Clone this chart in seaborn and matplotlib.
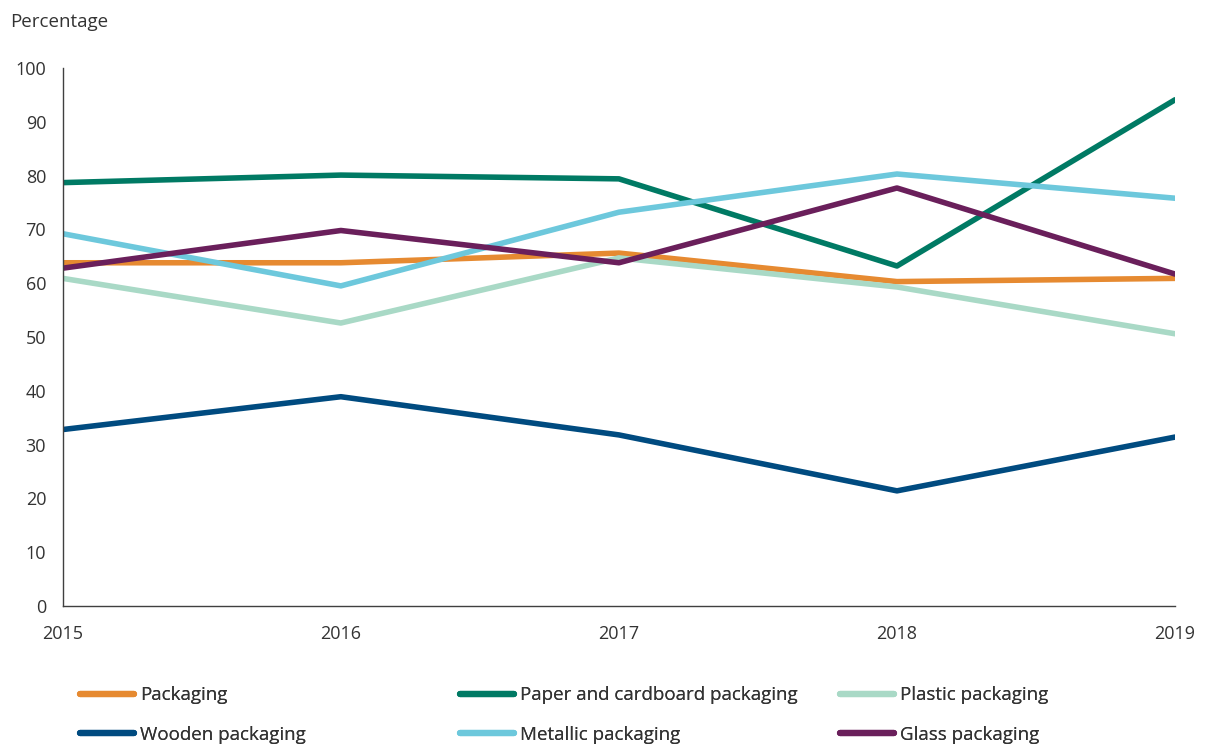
import pandas as pd
import seaborn as sns
import matplotlib.pyplot as plt
from matplotlib.lines import Line2D

years = [2015, 2016, 2017, 2018, 2019]
packaging = [63.8, 63.8, 65.6, 60.3, 60.9]
paper = [78.7, 80.1, 79.4, 63.2, 94.1]
plastic = [60.9, 52.6, 64.7, 59.3, 50.6]
wooden = [32.8, 38.9, 31.8, 21.4, 31.4]
metallic = [69.2, 59.5, 73.2, 80.3, 75.8]
glass = [62.8, 69.8, 63.8, 77.7, 61.7]

names = ["Packaging", "Paper and cardboard packaging", "Plastic packaging",
         "Wooden packaging", "Metallic packaging", "Glass packaging"]
series = [packaging, paper, plastic, wooden, metallic, glass]
colors = ["#E68A31", "#007A64", "#A9D9C6", "#004B80", "#6DC8DC", "#6A1F5B"]

df = pd.DataFrame({n: s for n, s in zip(names, series)}, index=years)
df.index.name = "year"
long = df.reset_index().melt(id_vars="year", var_name="series", value_name="value")

sns.set_style("white")
plt.rcParams["font.family"] = ["Open Sans", "DejaVu Sans"]

fig = plt.figure(figsize=(12.08, 7.46), dpi=100)
ax = fig.add_axes([0.052, 0.1877, 0.9207, 0.7211])

sns.lineplot(data=long, x="year", y="value", hue="series", hue_order=names,
             palette=dict(zip(names, colors)), linewidth=4.0, ax=ax, legend=False)

ax.set_xlim(2015, 2019)
ax.set_ylim(0, 100)
ax.set_xticks(years)
ax.set_yticks(range(0, 101, 10))
ax.set_xlabel("")
ax.set_ylabel("")
for s in ["top", "right"]:
    ax.spines[s].set_visible(False)
for s in ["left", "bottom"]:
    ax.spines[s].set_color("#404040")
    ax.spines[s].set_linewidth(1.0)
ax.tick_params(axis="both", direction="out", length=5, width=1, color="#404040",
               labelsize=13, labelcolor="#333333")
ax.tick_params(axis="x", pad=9)
ax.tick_params(axis="y", pad=7)
ax.text(-0.047, 1.068, "Percentage", transform=ax.transAxes, fontsize=13.5,
        color="#333333", va="bottom", ha="left")

# three legend columns, two rows each
col_x = [80 / 1208, 460 / 1208, 840 / 1208]
columns = [[0, 3], [1, 4], [2, 5]]
for cx, idx in zip(col_x, columns):
    handles = [Line2D([0], [0], color=colors[i], lw=4.5, solid_capstyle="round") for i in idx]
    leg = fig.legend(handles, [names[i] for i in idx], loc="center left",
                     bbox_to_anchor=(cx, 0.0415), frameon=False, fontsize=13.5,
                     handlelength=2.9, handletextpad=0.3, labelspacing=1.16,
                     borderpad=0, borderaxespad=0, labelcolor="#333333")
    fig.add_artist(leg)

fig.savefig("out.png", dpi=100)
